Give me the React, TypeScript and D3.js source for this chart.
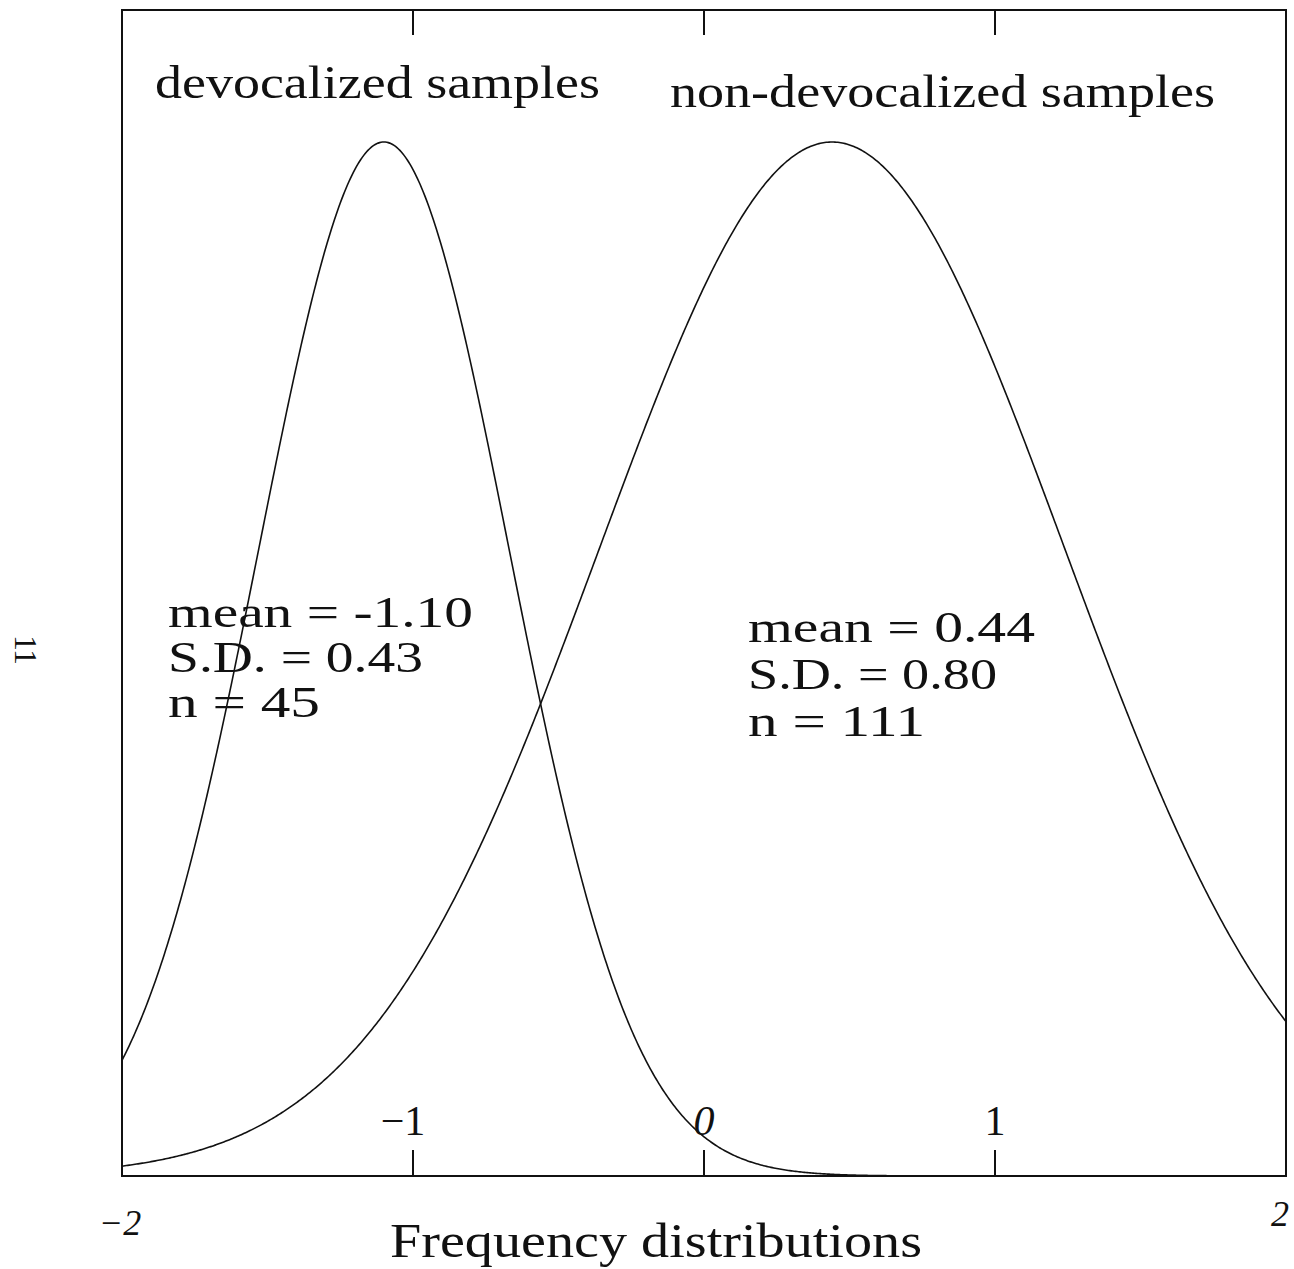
import React from "react";
import * as d3 from "d3";

// ---- data ----
const groups = ["devocalized samples", "non-devocalized samples"];
const means = [-1.1, 0.44];
const sds = [0.43, 0.8];
const counts = [45, 111];
const meanLabels = ["-1.10", "0.44"];
const sdLabels = ["0.43", "0.80"];
const innerTicks = [-1, 0, 1];
const innerTickLabels = ["\u22121", "0", "1"];
const domainX = [-2, 2];
const edgeLabels = ["\u22122", "2"];
const xTitle = "Frequency distributions";
const pageMark = "11";

const W = 1294;
const H = 1269;
const left = 122;
const right = 1286;
const top = 10;
const bottom = 1176;
const FONT = "'Liberation Serif', 'DejaVu Serif', serif";

export default function App() {
  const x = d3.scaleLinear().domain(domainX).range([left, right]);
  // each curve is scaled to the same peak height (relative density 0..1)
  const y = d3.scaleLinear().domain([0, 1]).range([bottom, 142]);
  const xs = d3.range(domainX[0], domainX[1] + 1e-9, 0.005);
  const line = d3
    .line<number[]>()
    .x((d) => x(d[0]))
    .y((d) => y(d[1]))
    .curve(d3.curveLinear);

  const curves = means.map((m, i) =>
    xs.map((v) => [v, Math.exp(-0.5 * ((v - m) / sds[i]) ** 2)])
  );

  const statPos = [
    { x: 168, y: 627, dy: 45, w: [305, 255, 152] },
    { x: 748, y: 642, dy: 47, w: [287, 249, 177] },
  ];
  const titlePos = [
    { x: 155, y: 98, w: 445 },
    { x: 670, y: 107, w: 545 },
  ];

  return (
    <svg width={W} height={H} style={{ display: "block", position: "absolute", left: 0, top: 0 }}>
      <rect x={0} y={0} width={W} height={H} fill="#fff" />
      {/* frame */}
      <rect
        x={left}
        y={top}
        width={right - left}
        height={bottom - top}
        fill="none"
        stroke="#111"
        strokeWidth={2}
      />
      {/* ticks */}
      {innerTicks.map((t) => (
        <g key={t}>
          <line x1={x(t)} x2={x(t)} y1={bottom} y2={bottom - 26} stroke="#111" strokeWidth={2} />
          <line x1={x(t)} x2={x(t)} y1={top} y2={top + 25} stroke="#111" strokeWidth={2} />
        </g>
      ))}
      {/* inner tick labels */}
      {innerTicks.map((t, i) => (
        <text
          key={"l" + t}
          x={x(t) + (t < 0 ? -10 : 0)}
          y={1135}
          fontFamily={FONT}
          fontSize={42}
          textAnchor="middle"
          fill="#111"
          fontStyle={t === 0 ? "italic" : "normal"}
        >
          {innerTickLabels[i]}
        </text>
      ))}
      {/* edge labels */}
      <text x={x(domainX[0]) - 2} y={1235} fontFamily={FONT} fontSize={36} fontStyle="italic" textAnchor="middle" fill="#111">
        {edgeLabels[0]}
      </text>
      <text x={x(domainX[1]) - 6} y={1226} fontFamily={FONT} fontSize={36} fontStyle="italic" textAnchor="middle" fill="#111">
        {edgeLabels[1]}
      </text>
      {/* curves */}
      {curves.map((c, i) => (
        <path key={i} d={line(c) || ""} fill="none" stroke="#111" strokeWidth={1.6} />
      ))}
      {/* titles */}
      {groups.map((g, i) => (
        <text
          key={g}
          x={titlePos[i].x}
          y={titlePos[i].y}
          fontFamily={FONT}
          fontSize={46}
          fill="#111"
          textLength={titlePos[i].w}
          lengthAdjust="spacingAndGlyphs"
        >
          {g}
        </text>
      ))}
      {/* stats */}
      {means.map((_, i) => {
        const lines = [
          `mean = ${meanLabels[i]}`,
          `S.D. = ${sdLabels[i]}`,
          `n = ${counts[i]}`,
        ];
        return lines.map((s, j) => (
          <text
            key={i + "-" + j}
            x={statPos[i].x}
            y={statPos[i].y + j * statPos[i].dy}
            fontFamily={FONT}
            fontSize={44}
            fill="#111"
            textLength={statPos[i].w[j]}
            lengthAdjust="spacingAndGlyphs"
          >
            {s}
          </text>
        ));
      })}
      {/* axis title */}
      <text
        x={390}
        y={1257}
        fontFamily={FONT}
        fontSize={48}
        fill="#111"
        textLength={532}
        lengthAdjust="spacingAndGlyphs"
      >
        {xTitle}
      </text>
      {/* page mark */}
      <text
        x={0}
        y={0}
        transform="translate(15,650) rotate(90)"
        fontFamily={FONT}
        fontSize={32}
        textAnchor="middle"
        fill="#111"
        textLength={30}
        lengthAdjust="spacing"
      >
        {pageMark}
      </text>
    </svg>
  );
}
